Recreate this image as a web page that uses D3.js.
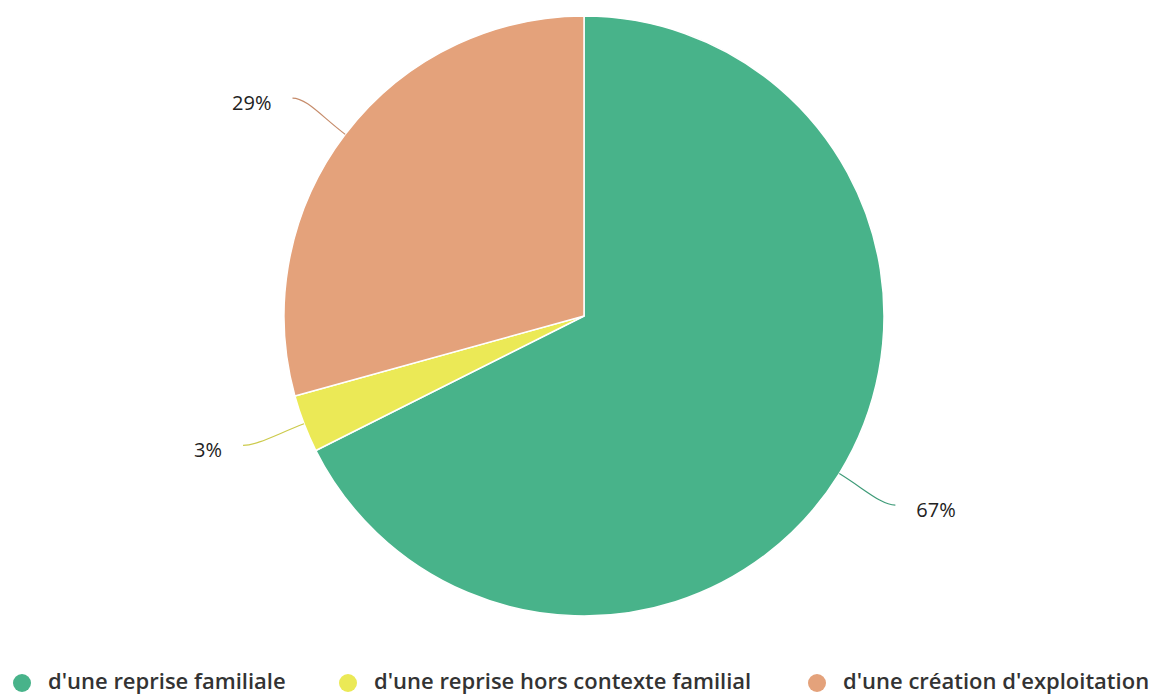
<!DOCTYPE html>
<html><head><meta charset="utf-8">
<script src="https://cdn.jsdelivr.net/npm/d3@7"></script>
<style>body{margin:0;background:#fff;} svg{display:block;}</style>
</head><body>
<svg id="chart" width="1161" height="697"></svg>
<script>
const categories = ["d'une reprise familiale", "d'une reprise hors contexte familial", "d'une création d'exploitation"];
const values = [67.6, 3.1, 29.3];
const labels = ["67%", "3%", "29%"];
const colors = ["#48b38a", "#ebe956", "#e4a27b"];
const legendX = [22, 348, 817];

const svg = d3.select("#chart");
const cx = 584, cy = 316, r = 300;
const g = svg.append("g").attr("transform", `translate(${cx},${cy})`);
const pie = d3.pie().sort(null).value(d => d)(values);
const arc = d3.arc().innerRadius(0).outerRadius(r);
g.selectAll("path.slice").data(pie).join("path").attr("class","slice")
  .attr("d", arc).attr("fill", (d,i) => colors[i]).attr("stroke", "#fff").attr("stroke-width", 1.5).attr("stroke-linejoin","round");

pie.forEach((d,i) => {
  const a = (d.startAngle + d.endAngle)/2;
  const sx = Math.sin(a), sy = -Math.cos(a);
  const side = sx >= 0 ? 1 : -1;
  const p0 = [r*sx, r*sy];
  const pm = [r*1.1*sx, r*1.1*sy];
  const pe = [r*1.2*sx + side*5, r*1.2*sy];
  const path = d3.path();
  path.moveTo(pe[0], pe[1]);
  path.bezierCurveTo(pe[0] - side*14, pe[1], pm[0], pm[1], p0[0], p0[1]);
  g.append("path").attr("d", path.toString()).attr("fill","none")
    .attr("stroke", d3.color(colors[i]).darker(0.4)).attr("stroke-width", 1.2);
  g.append("text").attr("x", pe[0] + side*21).attr("y", pe[1] + 5)
    .attr("dy", "0.35em").attr("text-anchor", side > 0 ? "start" : "end")
    .attr("font-family", "'Open Sans', sans-serif").attr("font-size", 20)
    .attr("fill", "#222").text(labels[i]);
});

const lg = svg.append("g");
categories.forEach((c,i) => {
  lg.append("circle").attr("cx", legendX[i]).attr("cy", 683).attr("r", 9).attr("fill", colors[i]);
  lg.append("text").attr("x", legendX[i] + 26).attr("y", 681).attr("dy","0.35em")
    .attr("font-family", "'Open Sans', sans-serif").attr("font-size", 22).attr("font-weight", 600)
    .attr("fill", "#333").text(c);
});
</script>
</body></html>
